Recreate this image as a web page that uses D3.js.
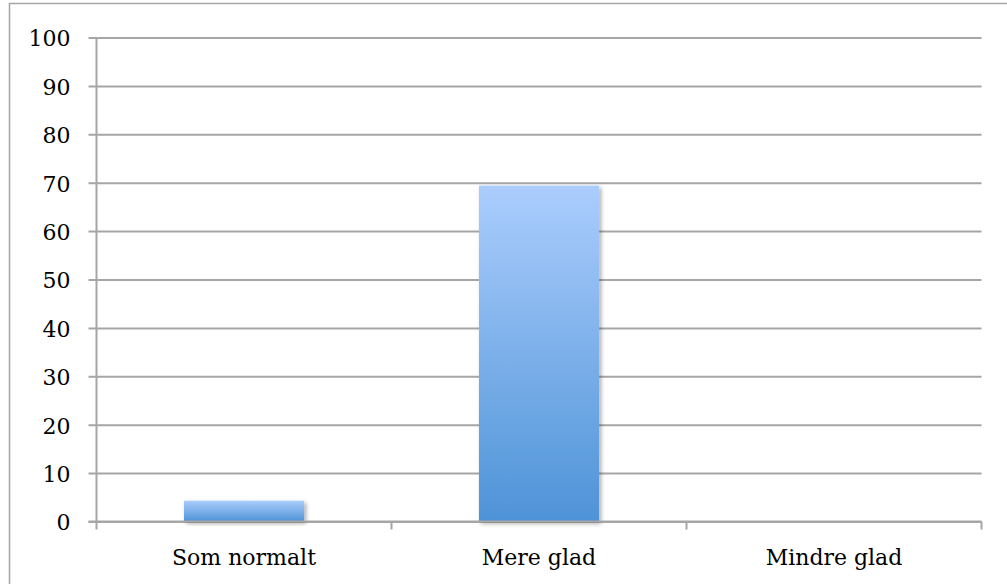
<!DOCTYPE html>
<html>
<head>
<meta charset="utf-8">
<script src="https://cdn.jsdelivr.net/npm/d3@7"></script>
<style>
  html, body { margin: 0; padding: 0; background: #fff; }
  svg { display: block; }
  text { font-family: "DejaVu Serif", serif; fill: #000; }
</style>
</head>
<body>
<svg id="chart" width="1007" height="584"></svg>
<script>
// Share of answers per category (%)
const categories = ["Som normalt", "Mere glad", "Mindre glad"];
const values = [4.3, 69.4, 0];
const yTicks = [0, 10, 20, 30, 40, 50, 60, 70, 80, 90, 100];

const svg = d3.select("#chart");
const plot = { left: 96.5, right: 981.5, top: 37.5, bottom: 521.5 };

// Outer frame, running past the right and bottom edges
svg.append("rect")
  .attr("x", 9.5).attr("y", 3.5)
  .attr("width", 1100).attr("height", 700)
  .attr("fill", "none").attr("stroke", "#a6a6a6").attr("stroke-width", 1.5);

const x = d3.scaleBand().domain(categories)
  .range([plot.left, plot.right]).paddingInner(0.593).paddingOuter(0.2965);
const xOuter = d3.scaleBand().domain(categories).range([plot.left, plot.right]);
const y = d3.scaleLinear().domain([0, 100]).range([plot.bottom, plot.top]);

const defs = svg.append("defs");
const grad = defs.append("linearGradient").attr("id", "barFill")
  .attr("x1", 0).attr("y1", 0).attr("x2", 0).attr("y2", 1);
grad.append("stop").attr("offset", "0%").attr("stop-color", "#abcdfd");
grad.append("stop").attr("offset", "100%").attr("stop-color", "#4e93d7");

const shadow = defs.append("filter").attr("id", "barShadow")
  .attr("x", "-20%").attr("y", "-20%").attr("width", "140%").attr("height", "140%");
shadow.append("feGaussianBlur").attr("in", "SourceAlpha").attr("stdDeviation", 2.2).attr("result", "b");
shadow.append("feOffset").attr("in", "b").attr("dx", 1.5).attr("dy", 1.5).attr("result", "o");
shadow.append("feComponentTransfer").attr("in", "o").attr("result", "s")
  .append("feFuncA").attr("type", "linear").attr("slope", 0.35);
const merge = shadow.append("feMerge");
merge.append("feMergeNode").attr("in", "s");
merge.append("feMergeNode").attr("in", "SourceGraphic");

// Horizontal gridlines with left tick stubs
const yAxis = d3.axisLeft(y).tickValues(yTicks)
  .tickSize(-(plot.right - plot.left)).tickSizeOuter(0).tickPadding(26);
const gy = svg.append("g").attr("transform", `translate(${plot.left},0)`).call(yAxis);
gy.select(".domain").remove();
gy.selectAll(".tick line").attr("stroke", "#a6a6a6").attr("stroke-width", 2)
  .attr("x1", -8);
gy.selectAll(".tick text").attr("font-size", 22).attr("fill", "#000")
  .attr("font-family", "DejaVu Serif, serif").attr("dy", "0.38em");

// Vertical axis line
svg.append("line")
  .attr("x1", plot.left).attr("x2", plot.left)
  .attr("y1", plot.top).attr("y2", plot.bottom)
  .attr("stroke", "#a6a6a6").attr("stroke-width", 2);

// Bars
svg.append("g").selectAll("rect").data(values).join("rect")
  .attr("x", (d, i) => x(categories[i]))
  .attr("width", x.bandwidth())
  .attr("y", d => y(d))
  .attr("height", d => y(0) - y(d))
  .attr("fill", "url(#barFill)")
  .attr("filter", "url(#barShadow)")
  .style("display", d => d > 0 ? null : "none");

// Category axis with tick marks between categories
const bounds = categories.map(c => xOuter(c)).concat([plot.right]);
const gx = svg.append("g");
gx.append("line")
  .attr("x1", plot.left - 8).attr("x2", plot.right)
  .attr("y1", plot.bottom).attr("y2", plot.bottom)
  .attr("stroke", "#a6a6a6").attr("stroke-width", 2);
gx.selectAll("line.tick").data(bounds).join("line").attr("class", "tick")
  .attr("x1", d => d).attr("x2", d => d)
  .attr("y1", plot.bottom).attr("y2", plot.bottom + 8)
  .attr("stroke", "#a6a6a6").attr("stroke-width", 2);
gx.selectAll("text").data(categories).join("text")
  .attr("x", d => xOuter(d) + xOuter.bandwidth() / 2)
  .attr("y", 565)
  .attr("text-anchor", "middle")
  .attr("font-size", 22)
  .text(d => d);
</script>
</body>
</html>
